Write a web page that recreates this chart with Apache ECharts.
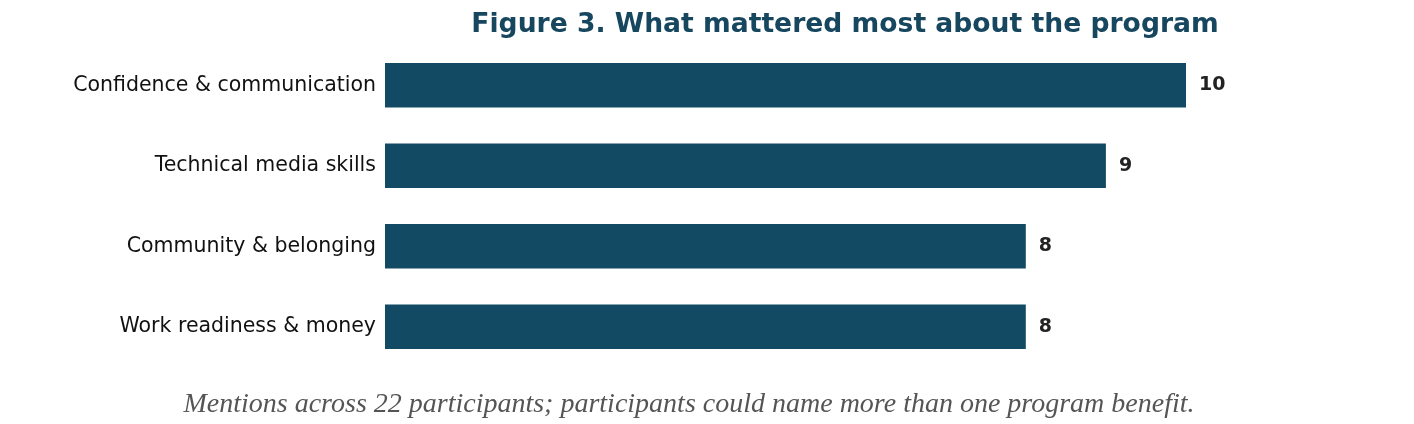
<!DOCTYPE html>
<html><head><meta charset="utf-8">
<script src="https://cdn.jsdelivr.net/npm/echarts@6/dist/echarts.min.js"></script>
<style>html,body{margin:0;padding:0;background:#fff}#c{width:1414px;height:424px}</style>
</head><body><div id="c"></div>
<script>
const categories = ["Confidence & communication","Technical media skills","Community & belonging","Work readiness & money"];
const values = [10, 9, 8, 8];
const titleText = "Figure 3. What mattered most about the program";
const captionText = "Mentions across 22 participants; participants could name more than one program benefit.";

const chart = echarts.init(document.getElementById('c'), null, {renderer:'canvas'});
chart.setOption({
  backgroundColor:'#ffffff',
  animation:false,
  title:[{
    text:titleText, left:840, top:7, textAlign:'center',
    textStyle:{fontFamily:'DejaVu Sans', fontWeight:'bold', fontSize:26.6, color:'#17475f'}
  },{
    text:captionText, left:684, top:386, textAlign:'center',
    textStyle:{fontFamily:'Liberation Serif', fontStyle:'italic', fontWeight:'normal', fontSize:28, color:'#555555'}
  }],
  grid:{left:385, top:45, width:801, height:322, containLabel:false},
  xAxis:{type:'value', min:0, max:10, show:false},
  yAxis:{type:'category', data:categories, inverse:true,
    axisLine:{show:false}, axisTick:{show:false}, splitLine:{show:false},
    axisLabel:{margin:9, fontFamily:'DejaVu Sans', fontSize:20.5, color:'#111111'}},
  series:[{
    type:'bar', data:values, barCategoryGap:'45%',
    itemStyle:{color:'#134a63'},
    label:{show:true, position:'right', distance:13, fontFamily:'DejaVu Sans', fontWeight:'bold', fontSize:19, color:'#222222'}
  }]
});
</script></body></html>
